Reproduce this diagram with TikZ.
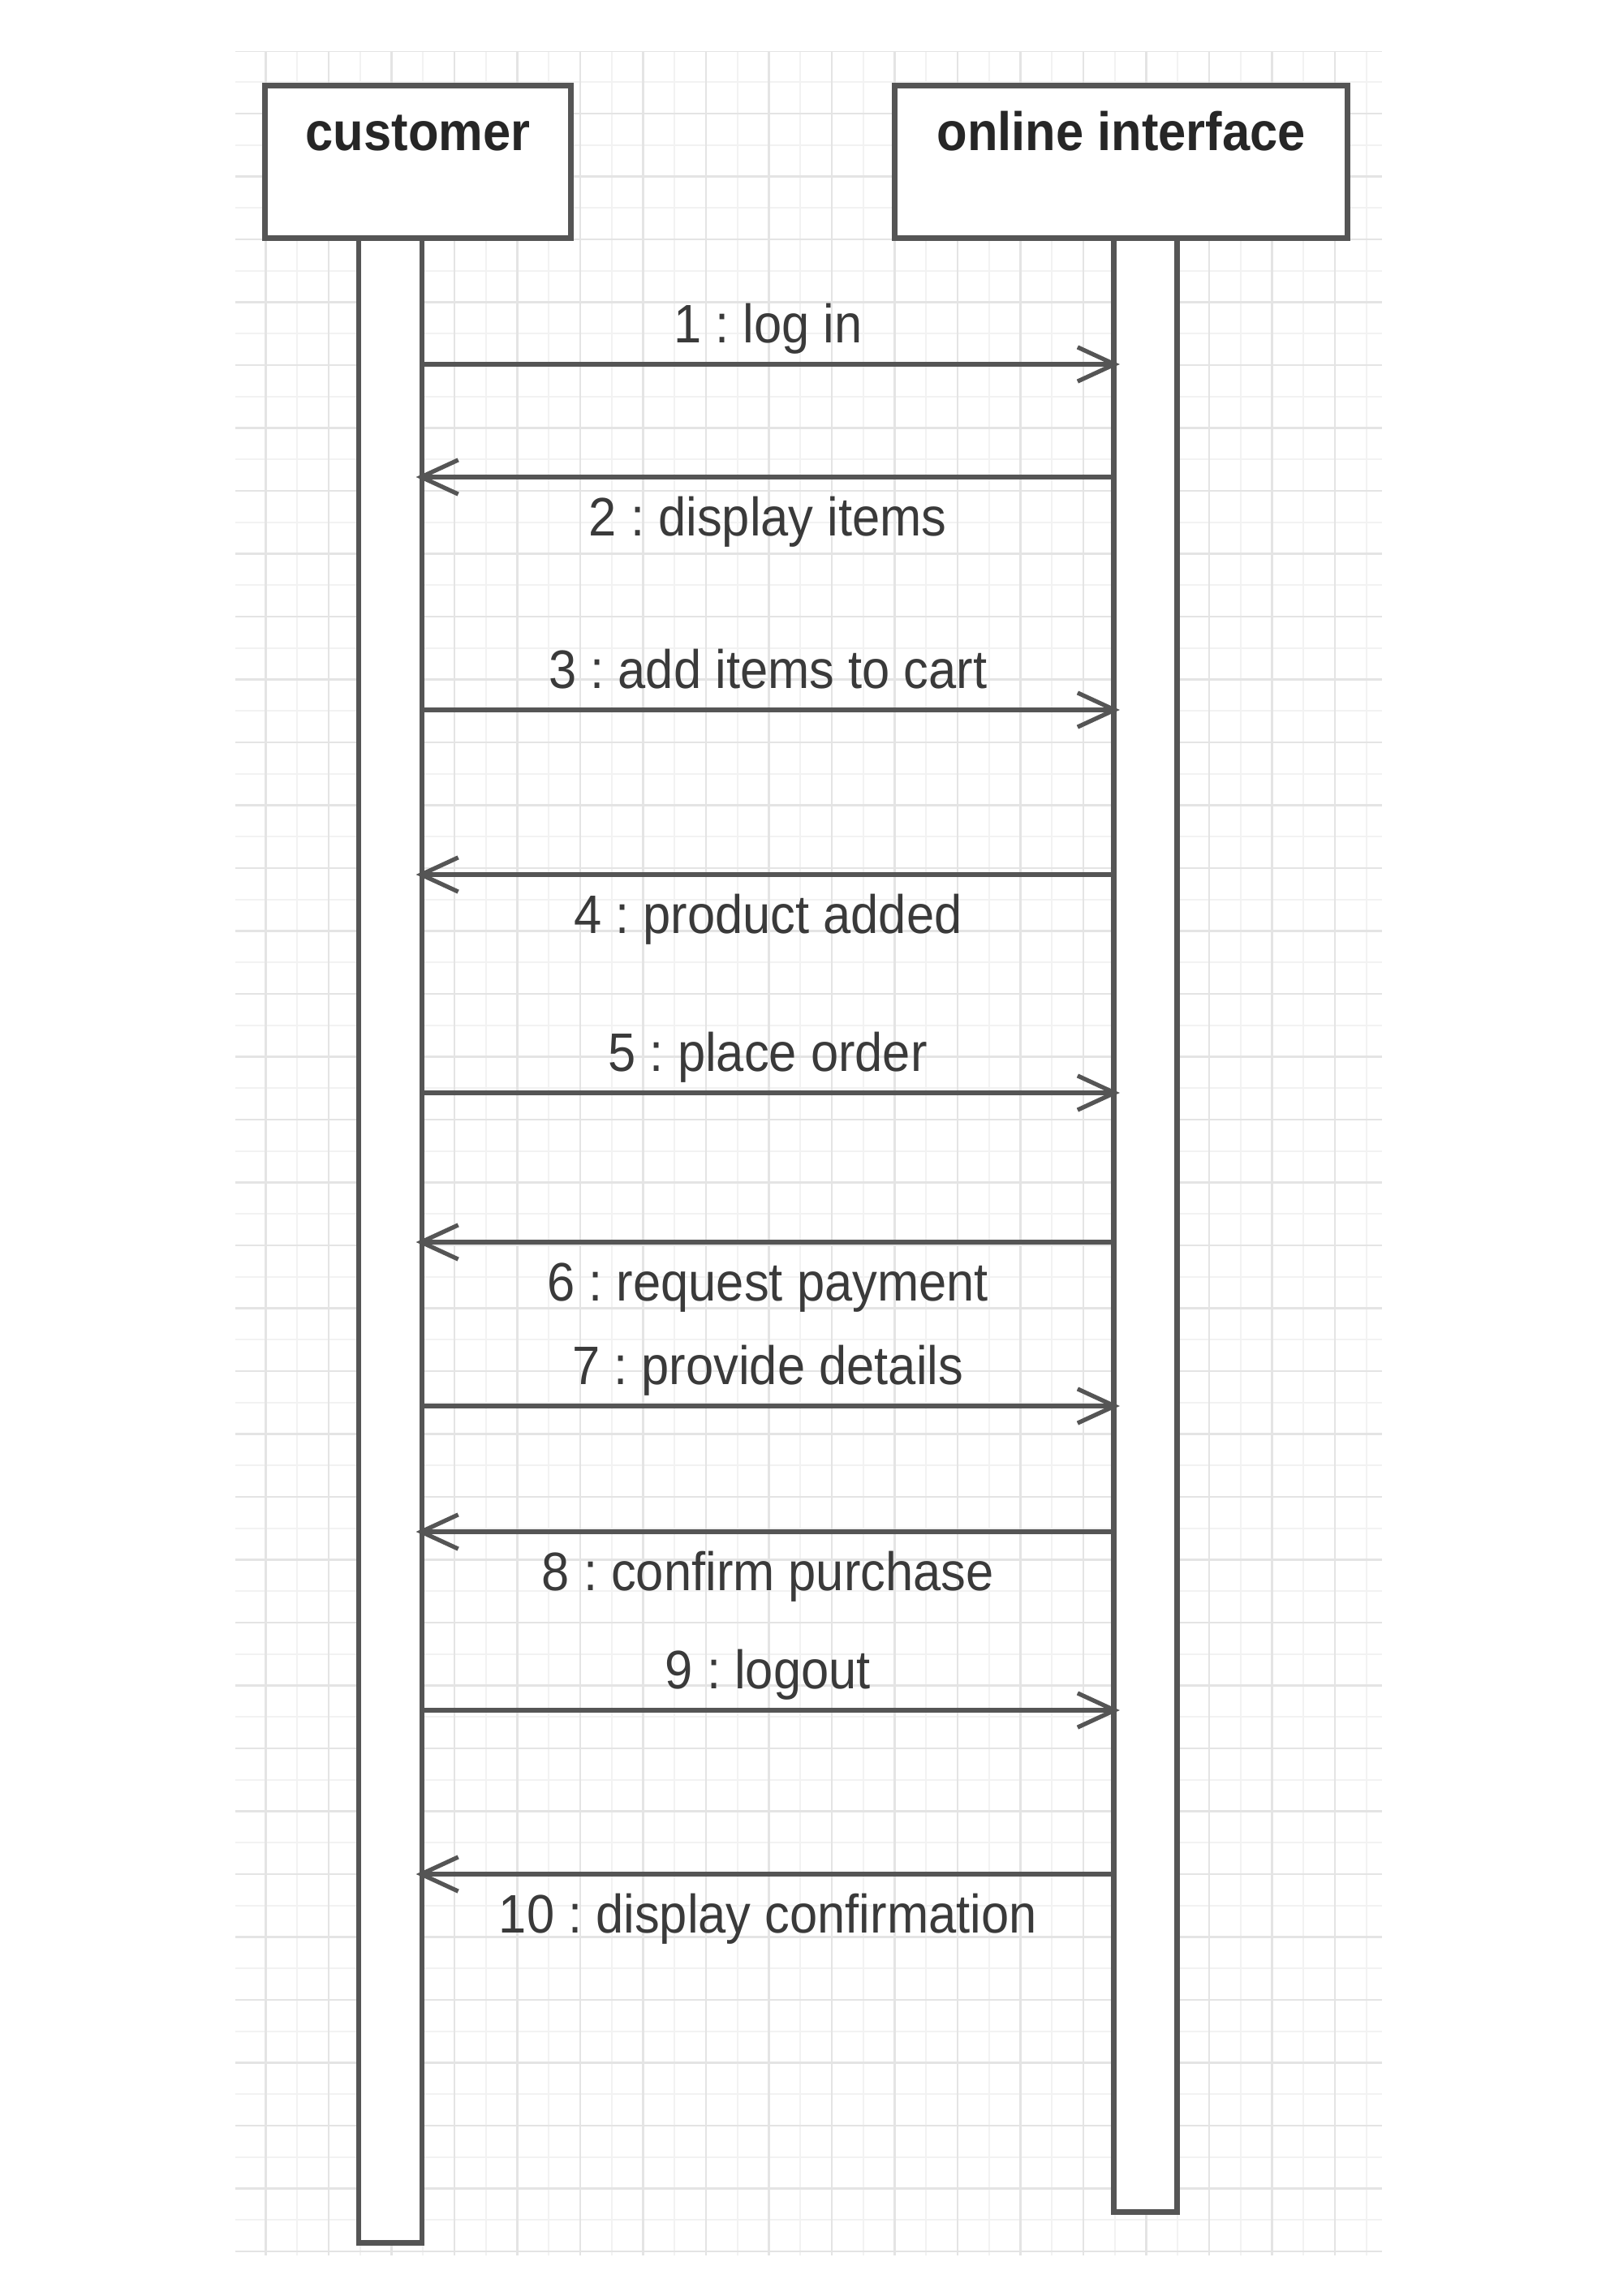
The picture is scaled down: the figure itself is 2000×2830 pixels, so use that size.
\documentclass[tikz,border=0pt]{standalone}
\usepackage{fontspec}
\setmainfont{Liberation Sans}[FakeStretch=0.92]
\usetikzlibrary{arrows.meta,positioning,calc}
\frenchspacing
\definecolor{linegray}{HTML}{555555}
\definecolor{textgray}{HTML}{3A3A3A}
\definecolor{gridgray}{HTML}{E4E4E4}
\definecolor{gridfaint}{HTML}{F2F2F2}
\tikzset{
  lifebox/.style={draw=linegray,line width=2pt,fill=white,minimum width=3.77cm,minimum height=1.88cm,anchor=north west,inner sep=0pt},
  actbar/.style={draw=linegray,line width=1.8pt,fill=white,minimum width=0.78cm,anchor=north,inner sep=0pt},
  msg/.style={draw=linegray,line width=1.5pt,shorten >=-3pt,-{Straight Barb[length=13pt,width=12pt,line width=1.5pt]}},
  lblup/.style={anchor=base,yshift=7.5pt,text=textgray,font=\fontsize{19}{22}\selectfont},
  lbldn/.style={anchor=base,yshift=-20.5pt,text=textgray,font=\fontsize{19}{22}\selectfont},
  lifename/.style={anchor=base,text=black!85,font=\fontsize{19}{22}\selectfont\bfseries}
}

\begin{document}
\begin{tikzpicture}[x=0.01cm,y=-0.01cm]
    \useasboundingbox (0,0) rectangle (2000,2830);

    % background grid
    \begin{scope}
      \clip (290,63) rectangle (1703,2780);
      \foreach \gx in {0,...,36} \draw [gridfaint,line width=0.5pt] (288.75+38.75*\gx,63) -- (288.75+38.75*\gx,2780);
      \foreach \gy in {0,...,70} \draw [gridfaint,line width=0.5pt] (290,62.5+38.75*\gy) -- (1703,62.5+38.75*\gy);
      \foreach \gx in {0,...,17} \draw [gridgray,line width=0.8pt] (327.5+77.5*\gx,63) -- (327.5+77.5*\gx,2780);
      \foreach \gy in {0,...,35} \draw [gridgray,line width=0.8pt] (290,62.5+77.5*\gy) -- (1703,62.5+77.5*\gy);
    \end{scope}

    % activation bars
    \node [actbar,minimum height=24.7cm] (custbar) at (481,290) {};
    \node [actbar,minimum height=24.32cm] (ifbar) at (1411.5,290) {};

    % lifeline heads
    \node [lifebox] (cust) at (323,102) {};
    \node [lifebox,minimum width=5.58cm] (iface) at (1099,102) {};
    \node [lifename] (custname) at ($(cust.north)+(0,83)$) {customer};
    \node [lifename] (ifacename) at ($(iface.north)+(0,83)$) {online interface};

    % messages
    \coordinate (m1) at (0,449);
    \coordinate (m2) at (0,588);
    \coordinate (m3) at (0,875);
    \coordinate (m4) at (0,1078);
    \coordinate (m5) at (0,1347);
    \coordinate (m6) at (0,1531);
    \coordinate (m7) at (0,1733);
    \coordinate (m8) at (0,1888);
    \coordinate (m9) at (0,2108);
    \coordinate (m10) at (0,2310);

    \draw [msg] (custbar.east |- m1) -- node [lblup] (l1) {1 : log in} (ifbar.west |- m1);
    \draw [msg] (ifbar.west |- m2) -- node [lbldn] (l2) {2 : display items} (custbar.east |- m2);
    \draw [msg] (custbar.east |- m3) -- node [lblup] (l3) {3 : add items to cart} (ifbar.west |- m3);
    \draw [msg] (ifbar.west |- m4) -- node [lbldn] (l4) {4 : product added} (custbar.east |- m4);
    \draw [msg] (custbar.east |- m5) -- node [lblup] (l5) {5 : place order} (ifbar.west |- m5);
    \draw [msg] (ifbar.west |- m6) -- node [lbldn] (l6) {6 : request payment} (custbar.east |- m6);
    \draw [msg] (custbar.east |- m7) -- node [lblup] (l7) {7 : provide details} (ifbar.west |- m7);
    \draw [msg] (ifbar.west |- m8) -- node [lbldn] (l8) {8 : confirm purchase} (custbar.east |- m8);
    \draw [msg] (custbar.east |- m9) -- node [lblup] (l9) {9 : logout} (ifbar.west |- m9);
    \draw [msg] (ifbar.west |- m10) -- node [lbldn] (l10) {10 : display confirmation} (custbar.east |- m10);
\end{tikzpicture}
\end{document}
